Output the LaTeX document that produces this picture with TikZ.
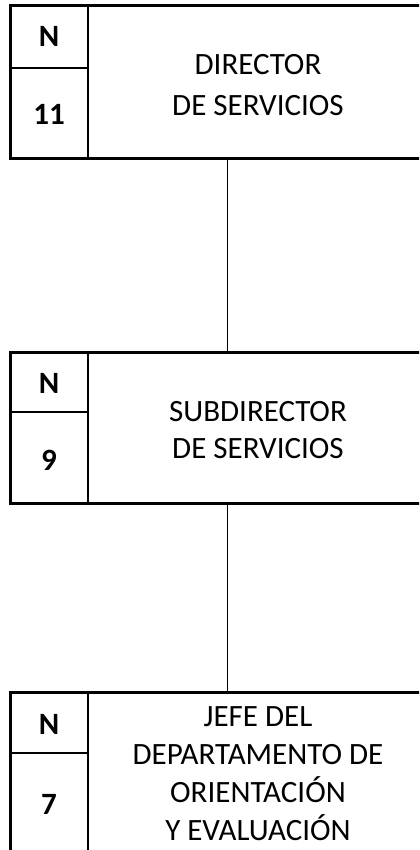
\documentclass[tikz,border=0pt]{standalone}
\usepackage{fontspec}
\setmainfont{Carlito}
\usetikzlibrary{fit}
\tikzstyle{BoxLine} = [draw, line width=1.6pt, inner sep=0pt]
\tikzstyle{CellLine} = [line width=1pt]
\tikzstyle{LinkLine} = [line width=0.75pt]
\tikzstyle{TitleText} = [align=center, font=\fontsize{15.5}{19}\selectfont]
\tikzstyle{LevelText} = [font=\bfseries\fontsize{15.5}{17}\selectfont]

\begin{document}
\begin{tikzpicture}[x=0.5pt,y=-0.5pt]
\useasboundingbox (0,0) rectangle (419,850);
\clip (0,0) rectangle (419,850);

\coordinate (link) at (227.7,0);

% director
\node[BoxLine, fit={(10.5,5.5) (428,158.3)}] (dirbox) {};
\draw[CellLine] (88.3,5.5) -- (88.3,158.3);
\draw[CellLine] (10.5,67.8) -- (88.3,67.8);
\node[LevelText] (dirN) at (49,36.7) {N};
\node[LevelText] (dirlevel) at (49,114.4) {11};
\node[TitleText, font=\fontsize{15.5}{20.7}\selectfont] (dir) at (258,85) {DIRECTOR\\DE SERVICIOS};

% subdirector
\node[BoxLine, fit={(10.5,352.5) (428,503.3)}] (subbox) {};
\draw[CellLine] (88.3,352.5) -- (88.3,503.3);
\draw[CellLine] (10.5,412.2) -- (88.3,412.2);
\node[LevelText] (subN) at (49,383.3) {N};
\node[LevelText] (sublevel) at (49,460.5) {9};
\node[TitleText, font=\fontsize{15.5}{18.5}\selectfont] (sub) at (258,430) {SUBDIRECTOR\\DE SERVICIOS};

% jefe de departamento
\node[BoxLine, fit={(10.5,692.5) (428,880)}] (jefbox) {};
\draw[CellLine] (88.3,692.5) -- (88.3,880);
\draw[CellLine] (10.5,752.8) -- (88.3,752.8);
\node[LevelText] (jefN) at (49,724.7) {N};
\node[LevelText] (jeflevel) at (49,804) {7};
\node[TitleText] (jef) at (258,773.2) {JEFE DEL\\DEPARTAMENTO DE\\ORIENTACIÓN\\Y EVALUACIÓN};

\draw[LinkLine] (dirbox.south -| link) -- (subbox.north -| link);
\draw[LinkLine] (subbox.south -| link) -- (jefbox.north -| link);

\end{tikzpicture}
\end{document}
